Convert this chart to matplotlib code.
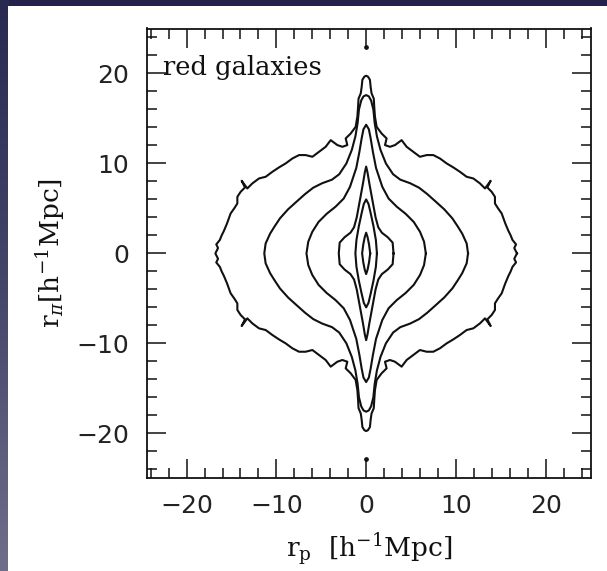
import numpy as np
import matplotlib
matplotlib.use("Agg")
import matplotlib.pyplot as plt
from matplotlib.ticker import MultipleLocator
from matplotlib.colors import LinearSegmentedColormap

# ---------------- data (upper-right quadrant of each contour, y from 0 up to cap) -------------
c1_x = [16.8, 16.5, 16.7, 16.3, 16.1, 15.85, 15.5, 15.1, 14.7, 14.35, 14.35, 13.98, 13.5, 13.87,
        13.24, 12.68, 11.94, 11.19, 10.45, 9.71, 8.97, 8.22, 7.48, 6.74, 5.99, 5.25, 4.51, 3.95,
        3.21, 2.65, 2.10, 2.28, 1.72, 1.17, 0.98, 0.9, 0.85, 0.6, 0.5, 0.42, 0.2, 0.0]
c1_y = [0.0, 0.6, 1.0, 1.5, 2.0, 2.5, 3.33, 4.44, 5.0, 5.55, 6.29, 6.85, 7.33, 8.07,
        7.22, 7.78, 8.33, 8.52, 9.07, 9.56, 10.0, 10.55, 10.93, 10.93, 10.74, 11.3, 11.85, 12.59,
        12.04, 11.85, 12.04, 12.78, 13.33, 14.07, 15.2, 16.3, 17.2, 17.8, 18.5, 19.3, 19.65, 19.75]

c2_x = [11.35, 11.2, 10.7, 10.2, 9.6, 8.7, 7.7, 6.8, 5.9, 4.9, 3.8, 3.0, 2.2, 1.6, 1.2, 0.95,
        0.8, 0.55, 0.3, 0.0]
c2_y = [0.0, 1.1, 2.2, 3.0, 3.9, 4.9, 5.8, 6.6, 7.3, 7.8, 8.2, 8.8, 10.0, 11.5, 13.0, 14.5,
        16.0, 17.0, 17.45, 17.6]

c3_x = [6.65, 6.45, 6.0, 5.3, 4.4, 3.4, 2.5, 1.8, 1.1, 0.75, 0.5, 0.3, 0.0]
c3_y = [0.0, 1.3, 2.4, 3.5, 4.4, 5.2, 6.1, 7.4, 9.5, 11.3, 12.8, 13.8, 14.3]

c4_x = [3.05, 2.95, 2.4, 1.75, 1.35, 1.05, 0.7, 0.35, 0.15, 0.0]
c4_y = [0.0, 1.2, 1.8, 2.3, 2.9, 4.0, 5.9, 7.8, 9.0, 9.65]

c5_x = [1.2, 1.08, 0.82, 0.52, 0.26, 0.0]
c5_y = [0.0, 1.5, 3.0, 4.4, 5.5, 6.0]

c6_x = [0.45, 0.32, 0.16, 0.0]
c6_y = [0.0, 1.0, 1.8, 2.3]

dot_x = [0.0, 0.0]
dot_y = [22.9, -22.9]

contours_x = [c1_x, c2_x, c3_x, c4_x, c5_x, c6_x]
contours_y = [c1_y, c2_y, c3_y, c4_y, c5_y, c6_y]

label_text = "red galaxies"
xlabel = r"$\mathrm{r_p}\ \ [\mathrm{h^{-1}Mpc}]$"
ylabel = r"$\mathrm{r}_\pi\mathrm{[h^{-1}Mpc]}$"
ticks = [-20, -10, 0, 10, 20]


def mirror(qx, qy):
    qx = np.asarray(qx, float)
    qy = np.asarray(qy, float)
    xs = np.concatenate([qx, -qx[::-1], -qx, qx[::-1]])
    ys = np.concatenate([qy, qy[::-1], -qy, -qy[::-1]])
    return xs, ys


plt.rcParams["mathtext.fontset"] = "dejavuserif"

W, H = 607, 571
fig = plt.figure(figsize=(W / 100, H / 100), dpi=100)
fig.patch.set_facecolor("#24224a")

# left gradient strip
strip = fig.add_axes([0, 0, 8.3 / W, 1])
grad = np.linspace(0, 1, 256).reshape(-1, 1)
cmap = LinearSegmentedColormap.from_list("s", ["#2a2950", "#45456a", "#6f6e8a"])
strip.imshow(grad, aspect="auto", cmap=cmap, extent=[0, 1, 0, 1], origin="upper")
strip.set_axis_off()

# white panel
panel = fig.add_axes([8.3 / W, 0, 1 - 8.3 / W, (H - 6) / H])
panel.set_axis_off()
panel.add_patch(plt.Rectangle((0, 0), 1, 1, transform=panel.transAxes,
                              facecolor="white", edgecolor="none"))

ax = fig.add_axes([146.7 / W, (H - 478.3) / H, (591.0 - 146.7) / W, (478.3 - 28.5) / H])
ax.set_facecolor("white")

for qx, qy in zip(contours_x, contours_y):
    xs, ys = mirror(qx, qy)
    ax.plot(xs, ys, color="#111111", lw=1.5, solid_joinstyle="round")

ax.plot(dot_x, dot_y, "o", color="#111111", ms=2.4)

ax.set_xlim(-24.45, 25.05)
ax.set_ylim(-25, 25)
ax.set_xticks(ticks)
ax.set_yticks(ticks)
ax.xaxis.set_minor_locator(MultipleLocator(2))
ax.yaxis.set_minor_locator(MultipleLocator(2))
ax.tick_params(which="both", direction="in", top=True, right=True, color="#111111")
ax.tick_params(which="major", length=13.5, width=1.1)
ax.tick_params(which="minor", length=7.2, width=1.1)
ax.tick_params(axis="x", which="major", pad=11, labelsize=18, labelcolor="#222222")
ax.tick_params(axis="y", which="major", pad=12.5, labelsize=18, labelcolor="#222222")
for s in ax.spines.values():
    s.set_linewidth(1.3)
    s.set_color("#111111")

ax.text(-22.6, 19.8, label_text, family="DejaVu Serif", fontsize=18.5,
        color="#111111", va="baseline", ha="left")

ax.set_xlabel(xlabel, fontsize=19, color="#111111")
ax.set_ylabel(ylabel, fontsize=19, color="#111111")
ax.xaxis.set_label_coords(0.5, -0.118)
ax.yaxis.set_label_coords(-0.18, 0.5)

fig.savefig("out.png", dpi=100, facecolor=fig.get_facecolor())
